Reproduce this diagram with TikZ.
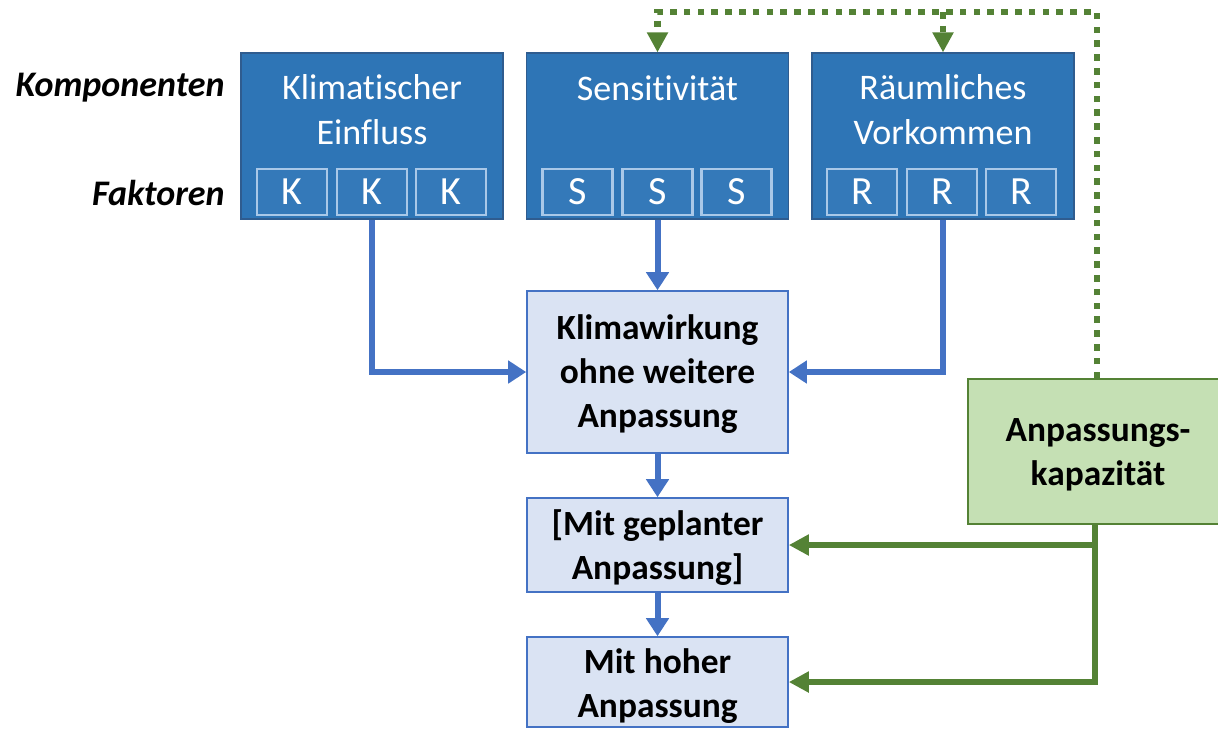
\documentclass[tikz,border=0pt]{standalone}
\usepackage{fontspec}
\setmainfont{Carlito}[Ligatures=NoCommon]
\usetikzlibrary{arrows.meta}
\definecolor{topblue}{HTML}{2E75B6}
\definecolor{topborder}{HTML}{2F5C8F}
\definecolor{subborder}{HTML}{A9C8E8}
\definecolor{subfill}{HTML}{3479B9}
\definecolor{midfill}{HTML}{DAE3F3}
\definecolor{midborder}{HTML}{4472C4}
\definecolor{arrblue}{HTML}{4472C4}
\definecolor{greenfill}{HTML}{C5E0B4}
\definecolor{greenline}{HTML}{548235}
\tikzset{
  compbox/.style={draw=topborder, line width=0.6pt, fill=topblue, minimum width=131pt, minimum height=83pt, inner sep=0pt},
  subbox/.style={draw=subborder, line width=1.1pt, fill=subfill, minimum width=35pt, minimum height=23pt, inner sep=0pt, text=white, font=\fontsize{20}{22}\selectfont},
  comptitle/.style={text=white, align=center, font=\fontsize{18}{22.5}\selectfont, inner sep=0pt},
  midbox/.style={draw=midborder, line width=0.8pt, fill=midfill, minimum width=130.5pt, inner sep=0pt},
  midtext/.style={align=center, font=\bfseries\fontsize{17.7}{22}\selectfont, inner sep=0pt},
  rowlabel/.style={anchor=east, font=\bfseries\itshape\fontsize{18}{20}\selectfont, inner sep=0pt},
  bluearrow/.style={draw=arrblue, line width=3pt, -{Triangle[length=9pt,width=11pt]}},
  greenarrow/.style={draw=greenline, line width=2.8pt, -{Triangle[length=10pt,width=10pt]}},
  dotarrow/.style={draw=greenline, line width=3.2pt, dash pattern=on 3.3pt off 3.6pt, -{Triangle[length=10pt,width=10pt,sep=0pt]}},
}
\begin{document}
\begin{tikzpicture}[x=0.5pt,y=-0.5pt]
\useasboundingbox (0,0) rectangle (1218,730);
% labels
\node[rowlabel] (lk) at (225,88) {Komponenten};
\node[rowlabel] (lf) at (225,193) {Faktoren};
% component boxes
\node[compbox] (K) at (372,136) {};
\node[compbox] (S) at (657.5,136) {};
\node[compbox] (R) at (943,136) {};
\node[comptitle] (Kt) at (372,110) {Klimatischer\\Einfluss};
\node[comptitle] (St) at (657.5,88) {Sensitivität};
\node[comptitle] (Rt) at (943,110) {Räumliches\\Vorkommen};
% factor boxes
\node[subbox] (K1) at (292,192) {K};
\node[subbox] (K2) at (372,192) {K};
\node[subbox] (K3) at (451,192) {K};
\node[subbox] (S1) at (577.5,192) {S};
\node[subbox] (S2) at (657.5,192) {S};
\node[subbox] (S3) at (736.5,192) {S};
\node[subbox] (R1) at (862,192) {R};
\node[subbox] (R2) at (942,192) {R};
\node[subbox] (R3) at (1021,192) {R};
% middle boxes
\node[midbox, minimum height=81pt] (W1) at (657.5,372) {};
\node[midtext] (W1t) at (657.5,374) {Klimawirkung\\ohne weitere\\Anpassung};
\node[midbox, minimum height=47pt] (W2) at (657.5,545) {};
\node[midtext] (W2t) at (657.5,548) {[Mit geplanter\\Anpassung]};
\node[midbox, minimum height=45pt] (W3) at (657.5,682) {};
\node[midtext] (W3t) at (657.5,686) {Mit hoher\\Anpassung};
% green box
\node[draw=greenline, line width=0.8pt, fill=greenfill, minimum width=127pt, minimum height=72.5pt, inner sep=0pt] (A) at (1095,451.5) {};
\node[midtext] (At) at (1098,455) {Anpassungs-\\kapazität};
% blue connectors
\draw[bluearrow] (K.south) |- (W1.west);
\draw[bluearrow] (S.south) -- (W1.north);
\draw[bluearrow] (R.south) |- (W1.east);
\draw[bluearrow] (W1.south) -- (W2.north);
\draw[bluearrow] (W2.south) -- (W3.north);
% green connectors
\coordinate (g2) at (A.south |- W2.east);
\draw[greenarrow] (A.south) -- (g2) -- (W2.east);
\draw[greenarrow] (g2) |- (W3.east);
% dotted feedback
\coordinate (top) at (1097,12);
\coordinate (topR) at (R.north |- top);
\draw[dotarrow] (A.north -| top) -- (top) -| (S.north);
\draw[dotarrow] (topR) -- (R.north);
\end{tikzpicture}
\end{document}
